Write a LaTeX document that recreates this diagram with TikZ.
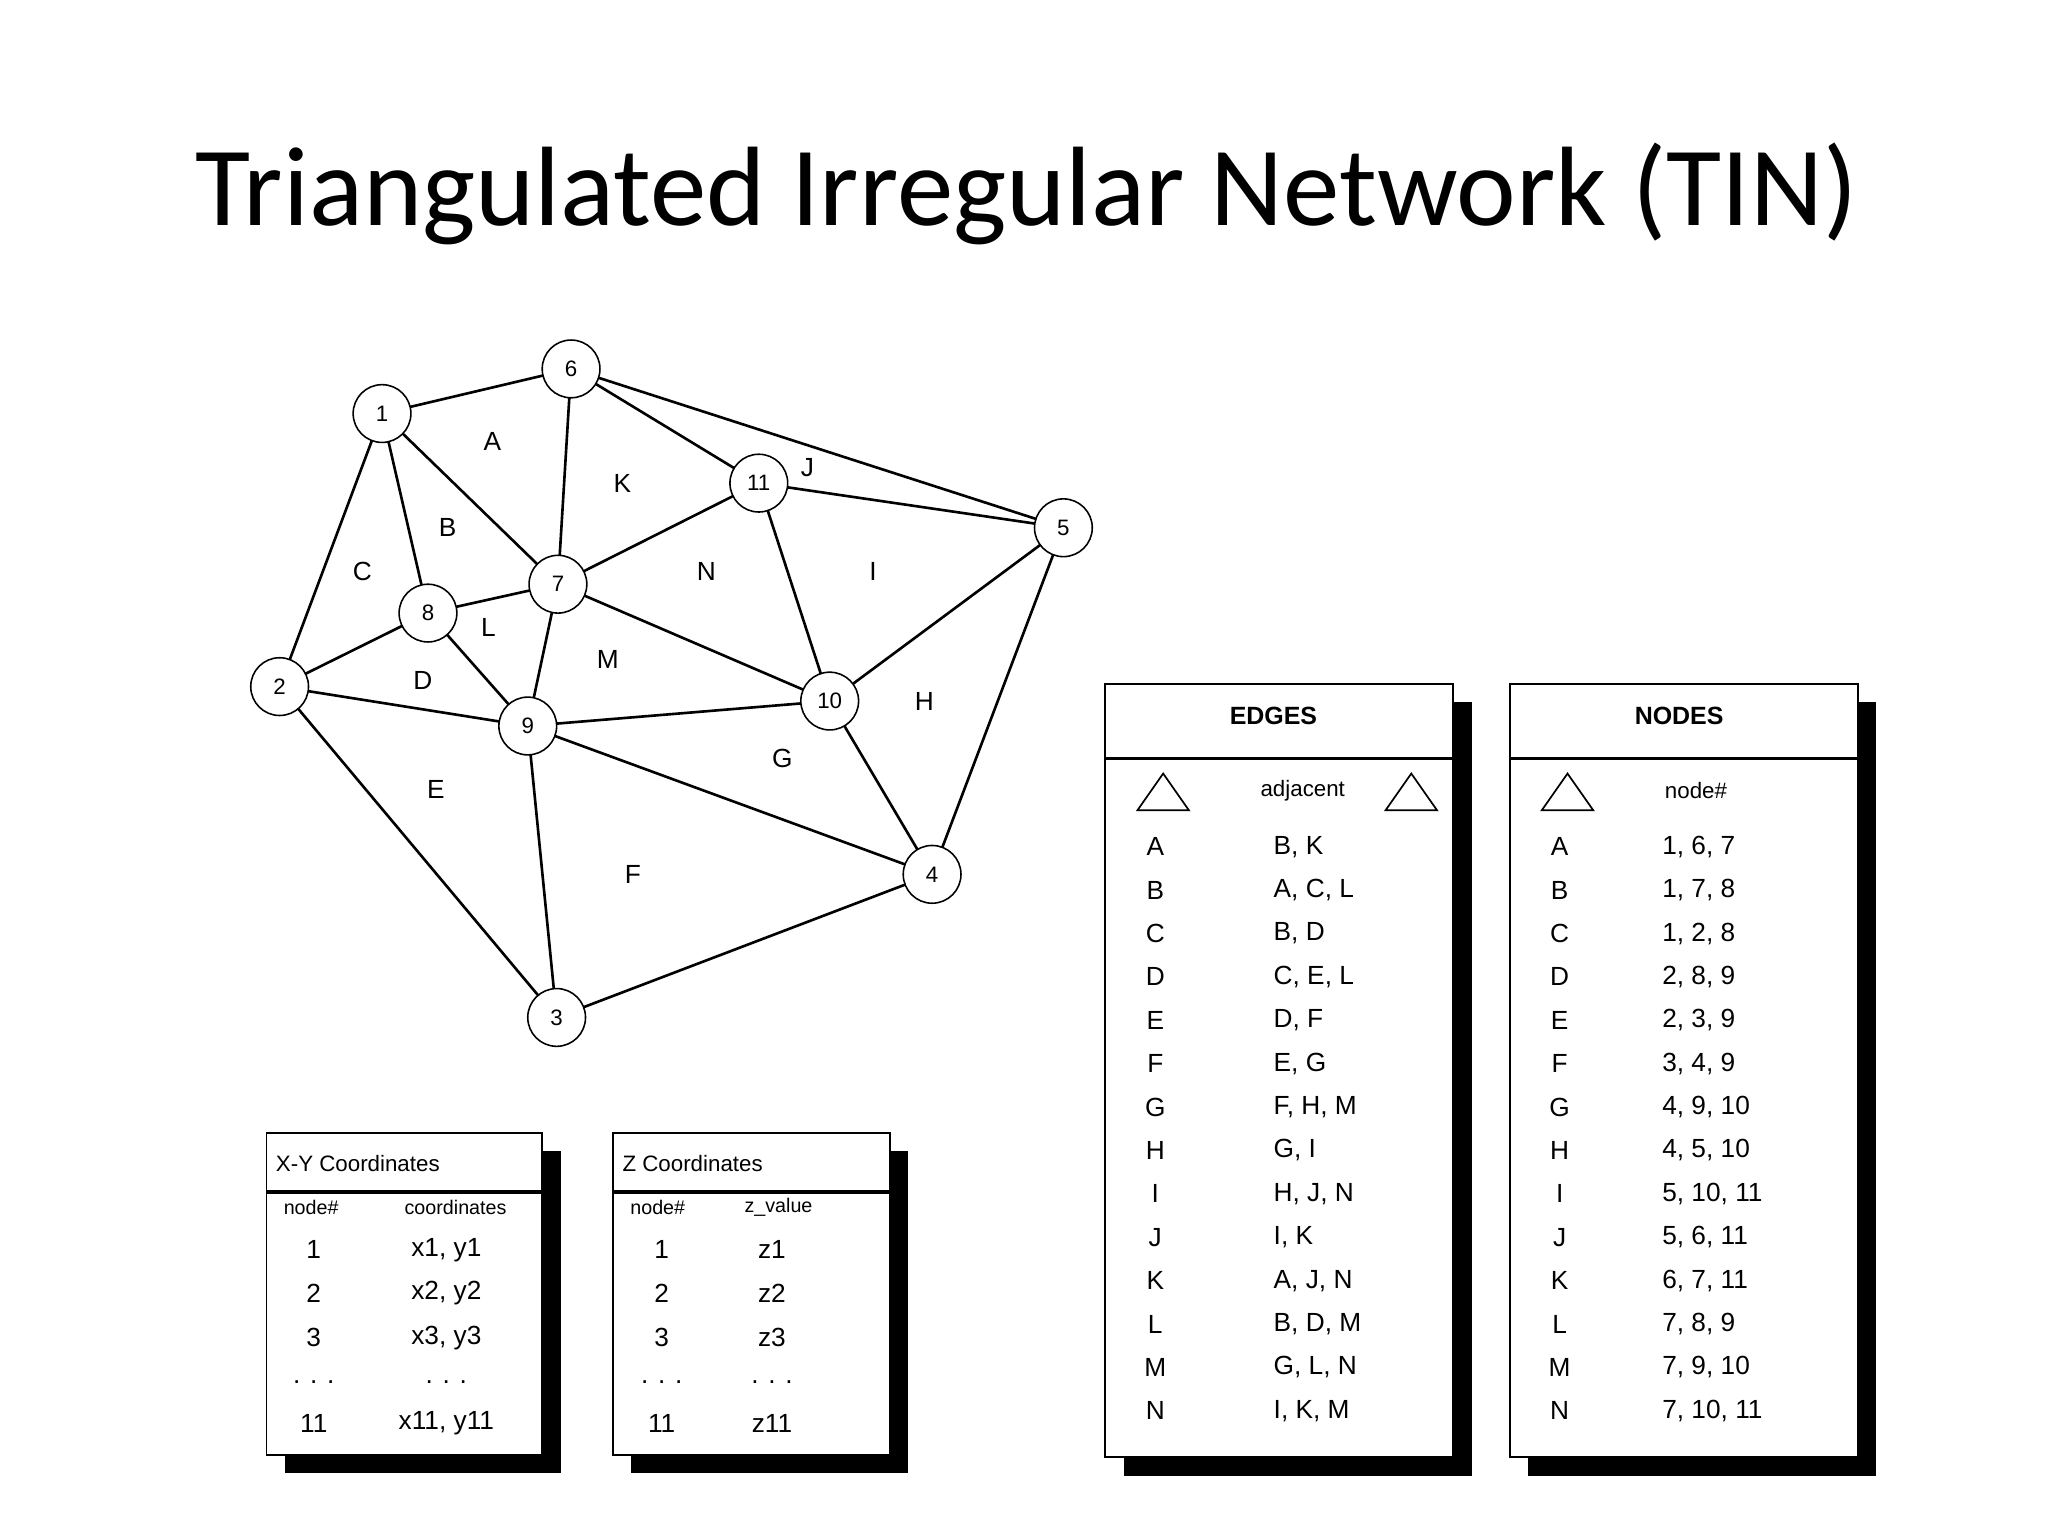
\documentclass[tikz,border=0pt]{standalone}
\usepackage{fontspec}
\usetikzlibrary{shapes.geometric}
\setmainfont{Liberation Sans}
\newfontfamily\titlefont{Carlito}
\begin{document}
\begin{tikzpicture}[x=1pt,y=-1pt,
  vtx/.style={circle,draw,line width=1.2pt,minimum size=44pt,inner sep=0pt,font=\fontsize{17}{17}\selectfont,fill=white},
  edge/.style={line width=2pt},
  tri/.style={font=\fontsize{20}{20}\selectfont},
  tbox/.style={draw,line width=1.5pt,fill=white},
  shadow/.style={fill=black},
  cell/.style={font=\fontsize{20}{20}\selectfont,inner sep=0pt},
  small/.style={font=\fontsize{17}{17}\selectfont,inner sep=0pt},
  sym/.style={draw,line width=1.3pt,isosceles triangle,isosceles triangle apex angle=70,shape border rotate=90,minimum height=28pt,inner sep=0pt}]
\useasboundingbox (0,0) rectangle (1560,1170);
\node[font=\titlefont\fontsize{86}{86}\selectfont] (title) at (782,148) {Triangulated Irregular Network (TIN)};
\foreach \n/\x/\y in {1/291/315,6/435/281,11/578/368,5/810/402,7/425/445,8/326/467,2/213/523,9/402/553,10/632/534,4/710/666,3/424/775}
  \coordinate (c\n) at (\x,\y);
\foreach \a/\b in {1/6,1/7,1/8,1/2,6/7,6/11,6/5,11/5,11/7,11/10,5/10,5/4,7/8,7/9,7/10,8/2,8/9,2/9,2/3,9/10,9/4,9/3,10/4,4/3}
  \draw[edge] (c\a) -- (c\b);
\foreach \n in {1,6,11,5,7,8,2,9,10,4,3}
  \node[vtx] (n\n) at (c\n) {\n};
\foreach \t/\x/\y in {A/375/336,B/341/402,C/276/435,K/474/368,J/615/356,N/538/435,I/665/435,L/372/478,M/463/502,D/322/518,H/704/534,G/596/578,E/332/601,F/482/666}
  \node[tri] (t\t) at (\x,\y) {\t};
\fill[shadow] (856,535) rectangle (1121,1124);
\draw[tbox] (842,521) rectangle (1107,1110);
\draw[line width=2.5pt] (842,578) -- (1107,578);
\node[font=\bfseries\fontsize{19}{19}\selectfont] (eh) at (970,545) {EDGES};
\node[sym] (es1) at (886,607) {};
\node[sym] (es2) at (1075,607) {};
\node[small,anchor=west] (eadj) at (960,602) {adjacent};
\fill[shadow] (1164,535) rectangle (1429,1124);
\draw[tbox] (1150,521) rectangle (1415,1110);
\draw[line width=2.5pt] (1150,578) -- (1415,578);
\node[font=\bfseries\fontsize{19}{19}\selectfont] (nh) at (1279,545) {NODES};
\node[sym] (ns1) at (1194,607) {};
\node[small,anchor=west] (nnum) at (1268,602) {node\#};
\foreach \t/\e/\v [count=\i from 0] in {A/{B, K}/{1, 6, 7},B/{A, C, L}/{1, 7, 8},C/{B, D}/{1, 2, 8},D/{C, E, L}/{2, 8, 9},E/{D, F}/{2, 3, 9},F/{E, G}/{3, 4, 9},G/{F, H, M}/{4, 9, 10},H/{G, I}/{4, 5, 10},I/{H, J, N}/{5, 10, 11},J/{I, K}/{5, 6, 11},K/{A, J, N}/{6, 7, 11},L/{B, D, M}/{7, 8, 9},M/{G, L, N}/{7, 9, 10},N/{I, K, M}/{7, 10, 11}}{
  \pgfmathsetmacro\yy{645+33.05*\i}
  \node[cell] (el\i) at (880,\yy) {\t};
  \node[cell,anchor=west] (ea\i) at (970,\yy) {\e};
  \node[cell] (nl\i) at (1188,\yy) {\t};
  \node[cell,anchor=west] (nv\i) at (1266,\yy) {\v};
}
\fill[shadow] (217,877) rectangle (427,1122);
\draw[tbox] (203,863) rectangle (413,1108);
\draw[line width=2.5pt] (203,908) -- (413,908);
\node[small,anchor=west] (xyt) at (210,886) {X-Y Coordinates};
\node[small,font=\fontsize{15}{15}\selectfont] (xyh1) at (237,920) {node\#};
\node[small,font=\fontsize{15}{15}\selectfont] (xyh2) at (347,920) {coordinates};
\fill[shadow] (481,877) rectangle (692,1122);
\draw[tbox] (467,863) rectangle (678,1108);
\draw[line width=2.5pt] (467,908) -- (678,908);
\node[small,anchor=west] (zt) at (474,886) {Z Coordinates};
\node[small,font=\fontsize{15}{15}\selectfont] (zh1) at (501,920) {node\#};
\node[small,font=\fontsize{15}{15}\selectfont] (zh2) at (593,920) {z\_value};
\foreach \n/\c/\z/\y in {1/{x1, y1}/z1/952,2/{x2, y2}/z2/985,3/{x3, y3}/z3/1019,{. . .}/{. . .}/{. . .}/1053,11/{x11, y11}/z11/1084}{
  \node[cell] at (239,\y) {\n};
  \node[cell] at (340,\y) {\c};
  \node[cell] at (504,\y) {\n};
  \node[cell] at (588,\y) {\z};
}
\end{tikzpicture}
\end{document}
